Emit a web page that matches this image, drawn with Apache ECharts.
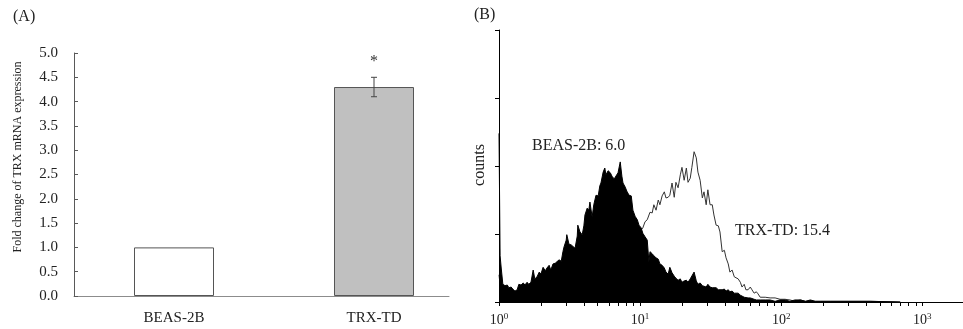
<!DOCTYPE html>
<html>
<head>
<meta charset="utf-8">
<script src="https://cdn.jsdelivr.net/npm/echarts@6/dist/echarts.min.js"></script>
<style>
html,body{margin:0;padding:0;background:#fff;}
#chart{width:963px;height:329px;}
</style>
</head>
<body>
<div id="chart"></div>
<script>
// ---------- Panel (A) data ----------
const categories = ['BEAS-2B', 'TRX-TD'];
const foldChange = [1.0, 4.3];
const errLow = [1.0, 4.1];
const errHigh = [1.0, 4.5];
const sigMarks = ['', '*'];

// ---------- Panel (B) data (log channel scale, 256 channels per decade) ----------
const decadeExps = [0, 1, 2, 3];
const channels = [
  0, 2, 4, 7, 11, 15, 18, 22, 25, 29, 33, 36, 40, 44, 47, 51, 54, 58, 62, 65,
  69, 73, 76, 80, 84, 87, 91, 94, 98, 102, 105, 109, 113, 116, 118, 122, 123, 127, 131, 134,
  138, 142, 143, 147, 151, 154, 156, 160, 163, 165, 169, 172, 176, 180, 183, 185, 189, 192, 194, 198,
  202, 205, 209, 212, 216, 220, 223, 225, 229, 232, 236, 240, 243, 247, 251, 254, 258, 261, 265, 269,
  272, 274, 278, 281, 285, 289, 292, 296, 300, 303, 307, 310, 314, 318, 321, 325, 329, 332, 336, 340,
  343, 347, 350, 354, 358, 361, 365, 369, 372, 376, 379, 383, 387, 390, 394, 398, 401, 405, 409, 412,
  416, 419, 423, 427, 430, 434, 438, 441, 445, 448, 452, 456, 459, 463, 467, 470, 474, 483, 492, 501,
  510, 519, 528, 537, 547, 556, 565, 574, 583, 601, 619, 637, 674, 728
];
const beasCounts = [
  248, 68, 50, 26, 24, 25, 21, 22, 19, 16, 18, 26, 25, 28, 25, 29, 26, 29, 47, 34,
  37, 44, 41, 51, 46, 50, 54, 47, 56, 57, 59, 62, 60, 74, 81, 91, 99, 85, 84, 82,
  79, 97, 113, 103, 99, 112, 128, 138, 135, 147, 125, 143, 157, 156, 171, 175, 191, 197, 187, 193,
  190, 185, 181, 182, 190, 206, 185, 175, 169, 163, 157, 156, 135, 126, 121, 113, 109, 101, 96, 91,
  59, 74, 71, 68, 65, 63, 56, 54, 50, 44, 41, 51, 43, 38, 35, 32, 34, 29, 31, 32,
  29, 34, 35, 44, 31, 26, 28, 24, 25, 22, 26, 22, 21, 19, 21, 18, 19, 18, 19, 16,
  18, 15, 16, 13, 12, 13, 10, 9, 7, 7, 6, 6, 4, 4, 3, 4, 3, 3, 3, 1,
  3, 3, 1, 3, 3, 1, 3, 1, 1, 1, 1, 1, 1, 0
];
const trxCounts = [
  40, 25, 15, 8, 8, 9, 8, 9, 8, 8, 9, 10, 10, 11, 11, 12, 12, 13, 13, 14,
  15, 15, 16, 17, 18, 19, 20, 21, 22, 23, 24, 25, 26, 27, 28, 29, 30, 31, 32, 33,
  35, 36, 37, 38, 40, 41, 42, 44, 45, 46, 48, 50, 52, 54, 56, 57, 59, 61, 62, 64,
  66, 68, 70, 72, 74, 76, 79, 80, 83, 86, 89, 92, 95, 98, 100, 103, 106, 109, 118, 121,
  123, 132, 131, 143, 135, 150, 143, 156, 162, 153, 154, 157, 175, 154, 176, 168, 187, 198, 179, 197,
  176, 182, 198, 221, 212, 191, 179, 153, 162, 143, 165, 143, 143, 128, 113, 112, 103, 74, 76, 65,
  56, 44, 47, 37, 35, 34, 29, 22, 26, 18, 18, 22, 18, 13, 15, 12, 7, 7, 6, 6,
  4, 4, 3, 1, 3, 1, 1, 1, 1, 1, 1, 1, 1, 0
];

const FONT = '"Liberation Serif", "Times New Roman", serif';
const TXT = '#222';

const chart = echarts.init(document.getElementById('chart'), null, {renderer: 'canvas'});

// minor/major tick positions of the log axis, in channel units
const tickChannels = [];
for (const e of [0, 1, 2, 3]) {
  for (let k = 1; k <= 9; k++) {
    const c = 256 * (e + Math.log10(k));
    if (c <= 842) tickChannels.push(c);
  }
}

const option = {
  backgroundColor: '#fff',
  animation: false,
  grid: [
    {left: 74, top: 53, width: 400, height: 243},
    {left: 74, top: 53, width: 375, height: 243},
    {left: 499, top: 30, width: 464, height: 272}
  ],
  xAxis: [
    {
      gridIndex: 0, type: 'category', data: categories,
      axisLine: {show: false}, axisTick: {show: false},
      axisLabel: {margin: 15, fontSize: 15, fontFamily: FONT, color: TXT}
    },
    {
      gridIndex: 1, type: 'value', min: 0, max: 1,
      axisLine: {show: true, lineStyle: {color: '#8c8c8c', width: 1}},
      axisTick: {show: false}, axisLabel: {show: false}, splitLine: {show: false}
    },
    {
      gridIndex: 2, type: 'value', min: 0, max: 842,
      axisLine: {show: true, lineStyle: {color: '#000', width: 1}},
      axisTick: {show: true, length: 4, customValues: tickChannels, lineStyle: {color: '#000'}},
      axisLabel: {
        customValues: decadeExps.map(e => e * 256),
        margin: 10, fontSize: 14, fontFamily: FONT, color: TXT,
        formatter: v => '10{s|' + Math.round(v / 256) + '}',
        rich: {s: {fontSize: 9, fontFamily: FONT, color: TXT, verticalAlign: 'top', padding: [0, 0, 8, 0]}}
      },
      splitLine: {show: false}
    }
  ],
  yAxis: [
    {
      gridIndex: 0, type: 'value', min: 0, max: 5, interval: 0.5,
      axisLine: {show: true, lineStyle: {color: '#595959', width: 1}},
      axisTick: {show: true, inside: true, length: 4, lineStyle: {color: '#595959'}},
      axisLabel: {formatter: v => v.toFixed(1), margin: 16, fontSize: 15, fontFamily: FONT, color: TXT},
      splitLine: {show: false}
    },
    {gridIndex: 1, type: 'value', show: false},
    {
      gridIndex: 2, type: 'value', min: 0, max: 400, interval: 100,
      axisLine: {show: true, lineStyle: {color: '#000', width: 1}},
      axisTick: {show: true, length: 4, lineStyle: {color: '#000'}},
      axisLabel: {show: false}, splitLine: {show: false}
    }
  ],
  series: [
    {
      type: 'bar', xAxisIndex: 0, yAxisIndex: 0, barWidth: 80,
      data: foldChange.map((v, i) => ({
        value: v,
        itemStyle: {color: i === 0 ? '#ffffff' : '#c0c0c0', borderColor: '#555', borderWidth: 1},
        label: {show: !!sigMarks[i], formatter: sigMarks[i], position: 'top', distance: 17,
                fontSize: 16, fontFamily: FONT, color: '#333'}
      }))
    },
    {
      type: 'custom', xAxisIndex: 0, yAxisIndex: 0, z: 5,
      data: categories.map((c, i) => [i, errLow[i], errHigh[i]]),
      renderItem: function (params, api) {
        const lo = api.value(1), hi = api.value(2);
        if (hi <= lo) return null;
        const p1 = api.coord([api.value(0), lo]);
        const p2 = api.coord([api.value(0), hi]);
        const w = 3;
        const st = {stroke: '#444', lineWidth: 1};
        return {
          type: 'group',
          children: [
            {type: 'line', shape: {x1: p1[0], y1: p1[1], x2: p2[0], y2: p2[1]}, style: st},
            {type: 'line', shape: {x1: p1[0] - w, y1: p1[1], x2: p1[0] + w, y2: p1[1]}, style: st},
            {type: 'line', shape: {x1: p2[0] - w, y1: p2[1], x2: p2[0] + w, y2: p2[1]}, style: st}
          ]
        };
      }
    },
    {
      type: 'line', name: 'TRX-TD', xAxisIndex: 2, yAxisIndex: 2, z: 2,
      data: channels.map((c, i) => [c, trxCounts[i]]),
      showSymbol: false, symbol: 'none',
      lineStyle: {color: '#333', width: 1},
      areaStyle: {color: '#ffffff', opacity: 1}
    },
    {
      type: 'line', name: 'BEAS-2B', xAxisIndex: 2, yAxisIndex: 2, z: 4,
      data: channels.map((c, i) => [c, beasCounts[i]]),
      showSymbol: false, symbol: 'none',
      lineStyle: {color: '#000', width: 1},
      areaStyle: {color: '#000', opacity: 1}
    }
  ],
  graphic: [
    {type: 'text', left: 13, top: 9, style: {text: '(A)', fontSize: 16, fontFamily: FONT, fill: TXT}},
    {type: 'text', left: 474, top: 7, style: {text: '(B)', fontSize: 16, fontFamily: FONT, fill: TXT}},
    {type: 'text', x: 18, y: 157, rotation: Math.PI / 2,
     style: {text: 'Fold change of TRX mRNA expression', fontSize: 12, fontFamily: FONT, fill: TXT,
             align: 'center', verticalAlign: 'middle'}},
    {type: 'text', x: 480, y: 165, rotation: Math.PI / 2,
     style: {text: 'counts', fontSize: 16, fontFamily: FONT, fill: TXT, align: 'center', verticalAlign: 'middle'}},
    {type: 'text', x: 532, y: 146,
     style: {text: 'BEAS-2B: 6.0', fontSize: 16, fontFamily: FONT, fill: TXT, align: 'left', verticalAlign: 'middle'}},
    {type: 'text', x: 735, y: 231,
     style: {text: 'TRX-TD: 15.4', fontSize: 16, fontFamily: FONT, fill: TXT, align: 'left', verticalAlign: 'middle'}}
  ]
};
chart.setOption(option);
</script>
</body>
</html>
